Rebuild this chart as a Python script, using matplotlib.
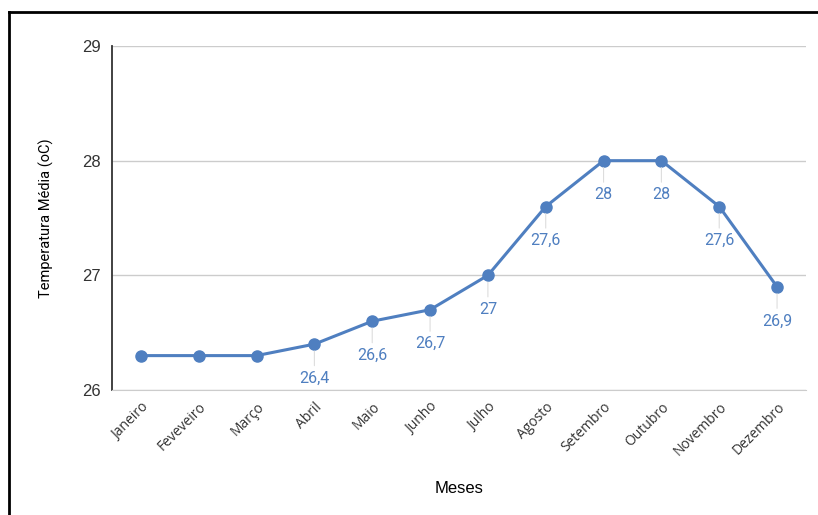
import matplotlib.pyplot as plt
from matplotlib.lines import Line2D

meses = ["Janeiro", "Feveveiro", "Março", "Abril", "Maio", "Junho", "Julho",
         "Agosto", "Setembro", "Outubro", "Novembro", "Dezembro"]
temperatura = [26.3, 26.3, 26.3, 26.4, 26.6, 26.7, 27.0, 27.6, 28.0, 28.0, 27.6, 26.9]
# only these points carry a data label
com_rotulo = [False, False, False, True, True, True, True, True, True, True, True, True]
yticks = [26, 27, 28, 29]

cor = "#4f7fc0"

fig = plt.figure(figsize=(8.18, 5.15), dpi=100)
ax = fig.add_axes([0.1369, 0.2427, 0.8484, 0.668])

x = list(range(len(meses)))
ax.plot(x, temperatura, color=cor, lw=2.2, marker="o", ms=8, zorder=3)

for xi, yi, ok in zip(x, temperatura, com_rotulo):
    if not ok:
        continue
    txt = f"{yi:g}".replace(".", ",")
    ax.annotate(txt, (xi, yi), xytext=(0, -24.5), textcoords="offset points",
                ha="center", va="center", color=cor, fontsize=11.5,
                family="Roboto")
    ax.annotate("", (xi, yi), xytext=(0, -15.5), textcoords="offset points",
                arrowprops=dict(arrowstyle="-", color="#dddddd", lw=0.8,
                                shrinkA=0, shrinkB=5))

ax.set_xlim(-0.5, len(meses) - 0.5)
ax.set_ylim(26, 29)
ax.set_yticks(yticks)
ax.set_yticklabels([str(t) for t in yticks], fontsize=12, family="Liberation Sans",
                   color="#333333")
ax.set_xticks(x)
ax.set_xticklabels(meses, rotation=45, ha="right", rotation_mode="anchor",
                   fontsize=10, family="Open Sans", color="#333333")
ax.tick_params(axis="both", length=0, pad=8)
ax.tick_params(axis="x", pad=7)

ax.grid(axis="y", color="#cccccc", lw=1)
ax.set_axisbelow(True)
for s in ["top", "right"]:
    ax.spines[s].set_visible(False)
ax.spines["bottom"].set_color("#cccccc")
ax.spines["left"].set_color("#333333")
ax.spines["left"].set_linewidth(1.3)

ax.set_ylabel("Temperatura Média (oC)", fontsize=10.5, family="Roboto")
ax.set_xlabel("Meses", fontsize=12, family="Liberation Sans")
ax.xaxis.set_label_coords(0.5, -0.265)
ax.yaxis.set_label_coords(-0.083, 0.5)

# moldura preta em cima e à esquerda
fig.add_artist(Line2D([0.011, 1.0], [1 - 12 / 515, 1 - 12 / 515], color="black", lw=2,
                      transform=fig.transFigure))
fig.add_artist(Line2D([0.011, 0.011], [0, 1 - 12 / 515], color="black", lw=2,
                      transform=fig.transFigure))

fig.savefig("out.png", dpi=100)
